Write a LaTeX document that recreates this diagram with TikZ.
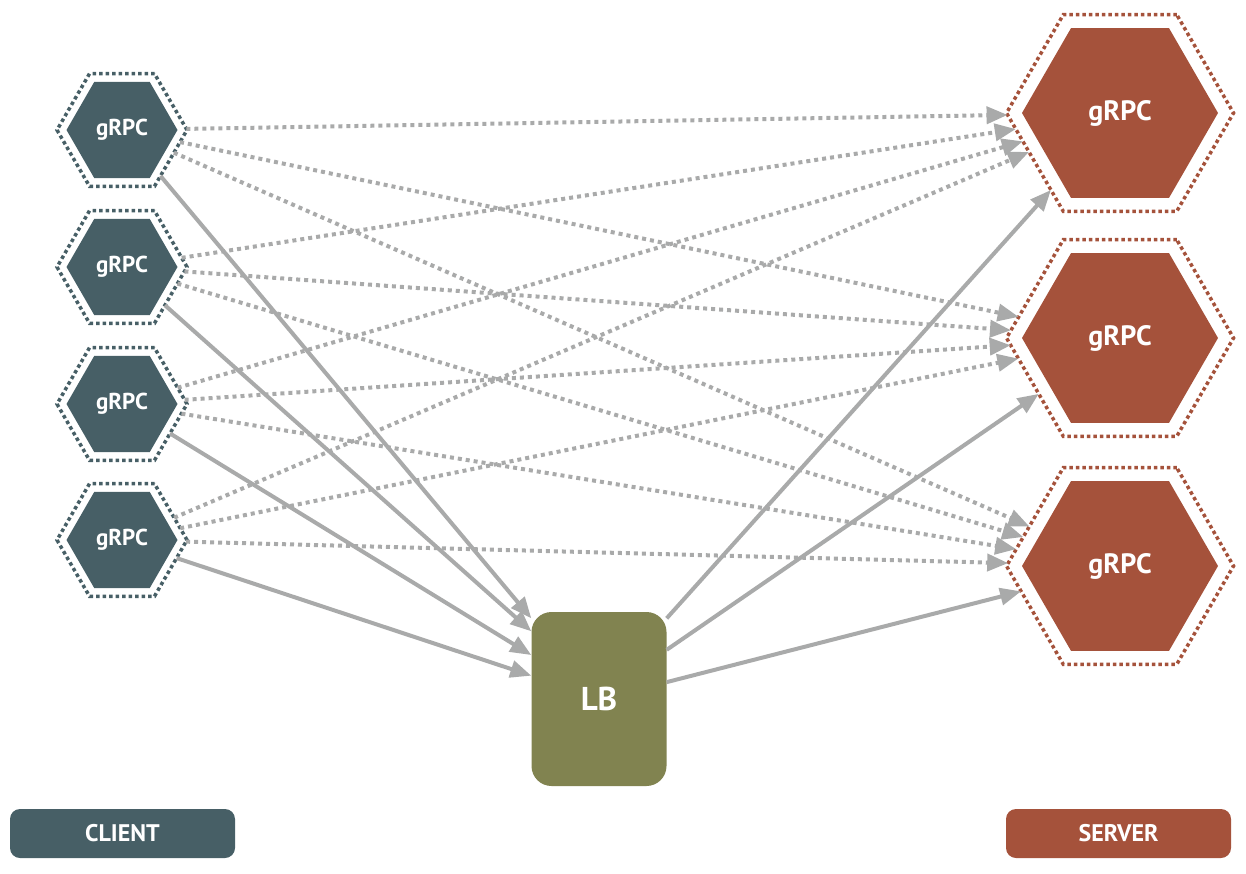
\documentclass[tikz,border=0pt]{standalone}
\usepackage{fontspec}
\setmainfont{PT Sans}
\usetikzlibrary{shapes.geometric, arrows.meta, positioning}
\definecolor{clientcol}{HTML}{475F66}
\definecolor{servercol}{HTML}{A5523B}
\definecolor{lbcol}{HTML}{818350}
\definecolor{linkcol}{HTML}{A9AAAA}

\begin{document}
\begin{tikzpicture}[x=1pt, y=-1pt,
        hexring/.style={regular polygon, regular polygon sides=6, draw,
            line width=3.5pt, dash pattern=on 3.5pt off 3pt, inner sep=0pt, outer sep=0pt},
        hexbody/.style={regular polygon, regular polygon sides=6, text=white, inner sep=0pt},
        keybox/.style={rounded corners=10pt, minimum width=225pt, minimum height=49pt,
            text=white, font=\bfseries\fontsize{24}{24}\selectfont},
        link/.style={draw=linkcol, line width=4pt, -{Triangle[length=21pt,width=17pt]}}]
    \useasboundingbox (0,0) rectangle (1246,874);
    % clients
    \foreach \i/\y in {1/130, 2/267, 3/404, 4/540} {
        \node[hexring, draw=clientcol, minimum size=130pt] (c\i) at (122,\y) {};
        \node[hexbody, fill=clientcol, minimum size=111pt,
            font=\bfseries\fontsize{23}{23}\selectfont] at (c\i) {gRPC};
    }
    % servers
    \foreach \i/\y in {1/113, 2/338, 3/566} {
        \node[hexring, draw=servercol, minimum size=227pt] (s\i) at (1120,\y) {};
        \node[hexbody, fill=servercol, minimum size=196pt,
            font=\bfseries\fontsize{28}{28}\selectfont] at (s\i) {gRPC};
    }
    \node[fill=lbcol, rounded corners=20pt, minimum width=135pt, minimum height=174pt,
        text=white, font=\bfseries\fontsize{33}{33}\selectfont] (lb) at (599,699) {LB};
    \node[keybox, fill=clientcol] (clientkey) at (122.5,833.5) {CLIENT};
    \node[keybox, fill=servercol] (serverkey) at (1118.5,833.5) {SERVER};
    % direct links
    \begin{scope}[every path/.append style={dash pattern=on 4pt off 4pt}]
        \foreach \c in {1,...,4}
            \foreach \s in {1,2,3}
                \draw[link] (c\c) -- (s\s);
    \end{scope}
    % via the balancer
    \draw[link] (c1) -- (lb.130);
    \draw[link] (c2) -- (lb.135);
    \draw[link] (c3) -- (lb.147);
    \draw[link] (c4) -- (lb.161);
    \draw[link] (lb.50) -- (s1);
    \draw[link] (lb.36) -- (s2);
    \draw[link] (lb.14) -- (s3);
\end{tikzpicture}
\end{document}
